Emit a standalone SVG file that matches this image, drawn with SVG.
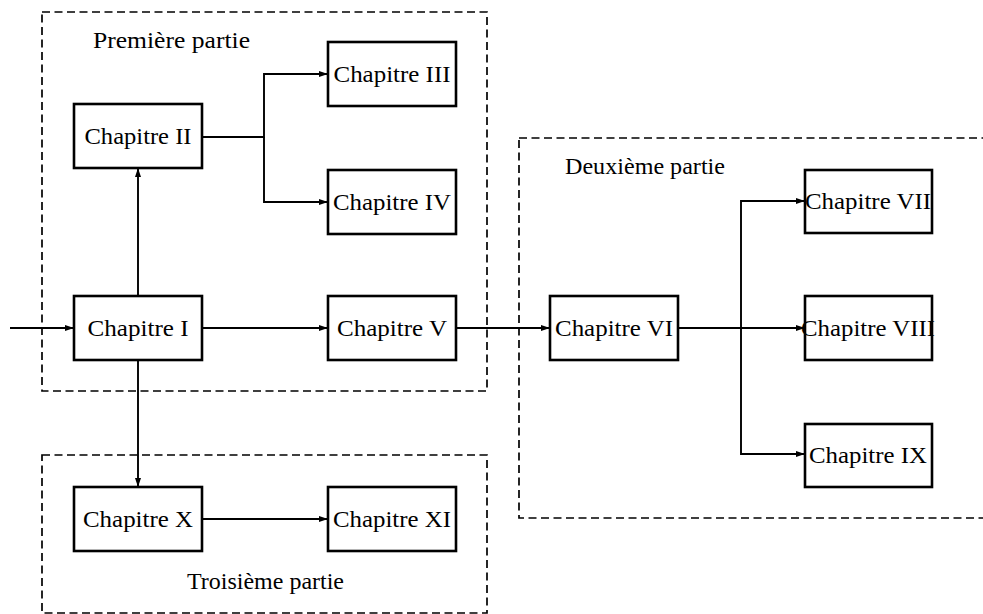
<svg xmlns="http://www.w3.org/2000/svg" width="983" height="614" viewBox="0 0 983 614">
<style>
.box{fill:#fff;stroke:#000;stroke-width:2.6}
.part{fill:none;stroke:#000;stroke-width:1.7;stroke-dasharray:8 4.5}
.t{font-family:"Liberation Serif","DejaVu Serif",serif;font-size:23px;fill:#000;text-anchor:middle}
.lbl{font-family:"Liberation Serif","DejaVu Serif",serif;font-size:23px;fill:#000}
.c{fill:none;stroke:#000;stroke-width:1.9}
</style>
<defs>
<marker id="ah" markerUnits="userSpaceOnUse" markerWidth="10" markerHeight="8" refX="9" refY="3" orient="auto">
<path d="M0,0 L9,3 L0,6 z" fill="#000"/>
</marker>
</defs>
<g id="parts">
<rect class="part" x="42" y="12" width="445" height="379"/>
<rect class="part" x="519" y="138" width="500" height="380"/>
<rect class="part" x="42" y="455" width="445" height="158"/>
<text class="lbl" x="93" y="48" textLength="157" lengthAdjust="spacingAndGlyphs">Première partie</text>
<text class="lbl" x="565" y="174" textLength="160" lengthAdjust="spacingAndGlyphs">Deuxième partie</text>
<text class="lbl" x="187" y="589" textLength="157" lengthAdjust="spacingAndGlyphs">Troisième partie</text>
</g>
<g id="connectors">
<line class="c" x1="10" y1="328" x2="74" y2="328" marker-end="url(#ah)"/>
<line class="c" x1="138" y1="296" x2="138" y2="168" marker-end="url(#ah)"/>
<line class="c" x1="138" y1="360" x2="138" y2="487" marker-end="url(#ah)"/>
<line class="c" x1="202" y1="328" x2="328" y2="328" marker-end="url(#ah)"/>
<polyline class="c" points="202,137 264,137 264,74 328,74" marker-end="url(#ah)"/>
<polyline class="c" points="264,137 264,202 328,202" marker-end="url(#ah)"/>
<line class="c" x1="456" y1="328" x2="550" y2="328" marker-end="url(#ah)"/>
<line class="c" x1="678" y1="328" x2="805" y2="328" marker-end="url(#ah)"/>
<polyline class="c" points="741,328 741,201 805,201" marker-end="url(#ah)"/>
<polyline class="c" points="741,328 741,454 805,454" marker-end="url(#ah)"/>
<line class="c" x1="202" y1="519" x2="328" y2="519" marker-end="url(#ah)"/>
</g>
<g id="ch1"><rect class="box" x="74" y="296" width="128" height="64"/><text class="t" x="138" y="336" textLength="101" lengthAdjust="spacingAndGlyphs">Chapitre I</text></g>
<g id="ch2"><rect class="box" x="74" y="104" width="128" height="64"/><text class="t" x="138" y="144" textLength="107" lengthAdjust="spacingAndGlyphs">Chapitre II</text></g>
<g id="ch3"><rect class="box" x="328" y="42" width="128" height="64"/><text class="t" x="392" y="82" textLength="117" lengthAdjust="spacingAndGlyphs">Chapitre III</text></g>
<g id="ch4"><rect class="box" x="328" y="170" width="128" height="64"/><text class="t" x="392" y="210" textLength="118" lengthAdjust="spacingAndGlyphs">Chapitre IV</text></g>
<g id="ch5"><rect class="box" x="328" y="296" width="128" height="64"/><text class="t" x="392" y="336" textLength="110" lengthAdjust="spacingAndGlyphs">Chapitre V</text></g>
<g id="ch6"><rect class="box" x="550" y="296" width="128" height="64"/><text class="t" x="614" y="336" textLength="118" lengthAdjust="spacingAndGlyphs">Chapitre VI</text></g>
<g id="ch7"><rect class="box" x="805" y="170" width="127" height="63"/><text class="t" x="868" y="209" textLength="126" lengthAdjust="spacingAndGlyphs">Chapitre VII</text></g>
<g id="ch8"><rect class="box" x="805" y="296" width="127" height="64"/><text class="t" x="868" y="336" textLength="134" lengthAdjust="spacingAndGlyphs">Chapitre VIII</text></g>
<g id="ch9"><rect class="box" x="805" y="424" width="127" height="63"/><text class="t" x="868" y="463" textLength="118" lengthAdjust="spacingAndGlyphs">Chapitre IX</text></g>
<g id="ch10"><rect class="box" x="74" y="487" width="128" height="64"/><text class="t" x="138" y="527" textLength="110" lengthAdjust="spacingAndGlyphs">Chapitre X</text></g>
<g id="ch11"><rect class="box" x="328" y="487" width="128" height="64"/><text class="t" x="392" y="527" textLength="118" lengthAdjust="spacingAndGlyphs">Chapitre XI</text></g>
</svg>
